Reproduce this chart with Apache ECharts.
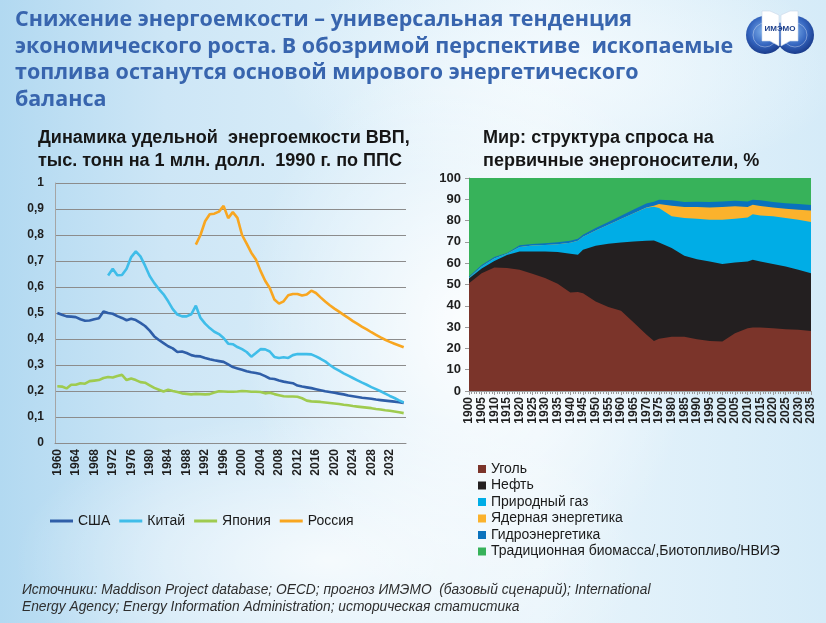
<!DOCTYPE html>
<html><head><meta charset="utf-8">
<script src="https://cdn.jsdelivr.net/npm/echarts@6/dist/echarts.min.js"></script>
<style>
html,body{margin:0;padding:0;width:826px;height:623px;overflow:hidden;}
body{
background:
 radial-gradient(ellipse 300px 380px at 470px 330px, rgba(255,255,255,0.9), rgba(255,255,255,0) 75%),
 radial-gradient(ellipse 420px 200px at 330px 560px, rgba(255,255,255,0.75), rgba(255,255,255,0) 75%),
 radial-gradient(ellipse 380px 160px at 560px 70px, rgba(245,251,254,0.85), rgba(255,255,255,0) 75%),
 linear-gradient(90deg, #b2d9f1 0%, #cde6f6 20%, #dbeef9 45%, #e8f4fb 65%, #d5ebf8 100%);
}
#c{width:826px;height:623px;}
</style></head><body><div id="c"></div>
<script>
// ---------- Left chart: energy intensity of GDP ----------
const lineYearStart = 1960, lineYearEnd = 2035;
const lineYears = [];
for (let y = lineYearStart; y <= lineYearEnd; y++) lineYears.push(String(y));

const usaStart = 1960;
const usa = [0.500,0.493,0.487,0.486,0.484,0.476,0.470,0.471,0.476,0.480,
 0.506,0.500,0.497,0.488,0.481,0.472,0.478,0.473,0.462,0.450,
 0.432,0.410,0.396,0.384,0.372,0.364,0.350,0.352,0.346,0.338,
 0.334,0.333,0.327,0.322,0.318,0.315,0.312,0.302,0.292,0.287,
 0.282,0.276,0.272,0.269,0.265,0.257,0.248,0.246,0.240,0.236,
 0.233,0.230,0.221,0.217,0.214,0.211,0.207,0.203,0.199,0.196,
 0.193,0.190,0.187,0.183,0.180,0.177,0.174,0.172,0.170,0.167,
 0.165,0.163,0.161,0.159,0.157,0.154];

const chinaStart = 1971;
const china = [0.644,0.670,0.645,0.646,0.670,0.715,0.737,0.718,0.682,0.642,
 0.615,0.592,0.572,0.545,0.515,0.494,0.487,0.487,0.495,0.528,
 0.481,0.459,0.442,0.428,0.419,0.404,0.382,0.380,0.369,0.361,
 0.350,0.332,0.346,0.361,0.360,0.352,0.331,0.327,0.330,0.327,
 0.338,0.342,0.342,0.342,0.341,0.333,0.324,0.314,0.300,0.288,
 0.278,0.268,0.259,0.250,0.241,0.232,0.224,0.215,0.207,0.199,
 0.190,0.181,0.173,0.164,0.156];

const japanStart = 1960;
const japan = [0.218,0.217,0.210,0.224,0.224,0.230,0.228,0.238,0.240,0.242,
 0.250,0.254,0.252,0.258,0.262,0.242,0.248,0.242,0.234,0.232,
 0.222,0.212,0.205,0.198,0.205,0.200,0.196,0.191,0.189,0.187,
 0.189,0.188,0.187,0.188,0.194,0.199,0.198,0.197,0.197,0.198,
 0.200,0.199,0.197,0.197,0.196,0.191,0.193,0.188,0.184,0.180,
 0.179,0.179,0.178,0.172,0.163,0.160,0.159,0.158,0.156,0.154,
 0.152,0.150,0.147,0.145,0.142,0.140,0.138,0.136,0.134,0.131,
 0.129,0.126,0.124,0.121,0.118,0.115];

const russiaStart = 1990;
const russia = [0.763,0.800,0.853,0.880,0.882,0.890,0.912,0.865,0.888,0.866,
 0.800,0.767,0.732,0.706,0.662,0.624,0.596,0.552,0.536,0.545,
 0.568,0.573,0.573,0.567,0.571,0.586,0.577,0.560,0.544,0.530,
 0.517,0.505,0.493,0.481,0.469,0.458,0.447,0.437,0.426,0.416,
 0.406,0.397,0.389,0.382,0.375,0.368];

const lineNames = ['США','Китай','Япония','Россия'];
const lineColors = ['#2f5ea8','#3fbde9','#9fcb4f','#f8a620'];

// ---------- Right chart: world primary energy demand structure, % ----------
const areaYears = [1900,1905,1910,1915,1920,1925,1930,1935,1940,1943,1945,1950,1955,1960,1965,
 1970,1973,1975,1980,1985,1990,1995,2000,2005,2010,2012,2015,2020,2025,2030,2035];
const coal    = [50.6,55.3,58.0,57.7,56.9,55.0,53.0,50.3,46.2,46.5,45.9,42.0,39.4,37.7,32.2,
 26.5,23.5,24.5,25.5,25.5,24.3,23.5,23.2,27.1,29.5,29.8,29.8,29.5,29.0,28.7,28.2];
const oil     = [2.2,2.2,3.0,6.2,8.6,10.5,12.5,14.9,18.2,17.5,20.4,26.2,29.7,32.0,38.0,
 44.0,47.2,45.2,41.6,38.0,37.6,37.3,36.4,33.2,31.3,31.8,31.0,30.1,29.5,28.2,27.1];
const gas     = [0.4,1.0,1.2,0.5,2.1,2.8,3.1,3.7,5.2,6.5,6.1,7.2,8.9,11.1,13.3,
 15.5,15.8,16.2,14.9,17.7,19.0,19.6,20.8,20.6,20.7,21.4,21.6,22.4,22.7,23.5,24.1];
const nuclear = [0,0,0,0,0,0,0,0,0,0,0,0,0,0,0,
 0.2,0.5,1.9,5.0,5.2,5.5,5.8,6.0,5.8,4.9,4.4,4.5,4.2,4.4,4.7,5.3];
const hydro   = [0.5,0.7,0.7,0.4,0.8,0.7,0.8,0.9,0.9,1.0,1.0,1.1,1.4,1.5,1.7,
 1.8,1.9,2.0,2.5,2.3,2.5,2.5,2.6,2.6,2.6,2.4,2.6,2.5,2.6,2.7,2.6];
const biomass = [46.3,40.8,37.1,35.2,31.6,31.0,30.6,30.2,29.5,28.5,26.6,23.5,20.6,17.7,14.8,
 12.0,11.1,10.2,10.5,11.3,11.1,11.3,11.0,10.7,11.0,10.2,10.5,11.3,11.8,12.2,12.7];

const areaNames = ['Уголь','Нефть','Природный газ','Ядерная энергетика','Гидроэнергетика','Традиционная биомасса/,Биотопливо/НВИЭ'];
const areaColors = ['#7b342a','#231f20','#00ade6','#fbb22c','#0a72bd','#37b25a'];
const areaValues = [coal, oil, gas, nuclear, hydro, biomass];

// ---------- Texts ----------
const titleLines = ['Снижение энергоемкости – универсальная тенденция',
 'экономического роста. В обозримой перспективе  ископаемые',
 'топлива останутся основой мирового энергетического',
 'баланса'];
const leftSub = ['Динамика удельной  энергоемкости ВВП,', 'тыс. тонн на 1 млн. долл.  1990 г. по ППС'];
const rightSub = ['Мир: структура спроса на', 'первичные энергоносители, %'];
const sourceLines = ['Источники: Maddison Project database; OECD; прогноз ИМЭМО  (базовый сценарий); International',
 'Energy Agency; Energy Information Administration; историческая статистика'];

// ---------- helpers ----------
const mctx = document.createElement('canvas').getContext('2d');
function fitSize(text, style, weight, family, width) {
  mctx.font = style + ' ' + weight + ' 100px ' + family;
  return 100 * width / mctx.measureText(text).width;
}
function padSeries(start, arr) {
  return lineYears.map(function (y) {
    const i = Number(y) - start;
    return (i >= 0 && i < arr.length) ? arr[i] : null;
  });
}

const TF = '"Open Sans", "DejaVu Sans", sans-serif';
const AF = '"Liberation Sans", Arial, sans-serif';
const NF = '"Liberation Sans Narrow", "Liberation Sans", Arial, sans-serif';

const titleSize = fitSize(titleLines[0], 'normal', 'bold', TF, 617);
const subSize = fitSize(leftSub[0], 'normal', 'bold', AF, 372);
const srcSize = fitSize(sourceLines[0], 'italic', 'normal', NF, 629);

const graphics = [];
const titleY = [22, 49, 75, 102];
titleLines.forEach(function (t, i) {
  graphics.push({type: 'text', left: 15, top: titleY[i] - titleSize * 0.6, silent: true,
    style: {text: t, font: 'bold ' + titleSize.toFixed(2) + 'px ' + TF, fill: '#3865ae'}});
});
const subY = [139, 162];
leftSub.forEach(function (t, i) {
  graphics.push({type: 'text', left: 38, top: subY[i] - subSize * 0.58, silent: true,
    style: {text: t, font: 'bold ' + subSize.toFixed(2) + 'px ' + AF, fill: '#161616'}});
});
rightSub.forEach(function (t, i) {
  graphics.push({type: 'text', left: 483, top: subY[i] - subSize * 0.58, silent: true,
    style: {text: t, font: 'bold ' + subSize.toFixed(2) + 'px ' + AF, fill: '#161616'}});
});
const srcY = [591, 608];
sourceLines.forEach(function (t, i) {
  graphics.push({type: 'text', left: 22, top: srcY[i] - srcSize * 0.58, silent: true,
    style: {text: t, font: 'italic ' + srcSize.toFixed(2) + 'px ' + NF, fill: '#2e2e2e'}});
});
// logo
const globeGrad = {type: 'radial', x: 0.45, y: 0.4, r: 0.6,
  colorStops: [{offset: 0, color: '#7fb0ea'}, {offset: 0.6, color: '#3566c0'}, {offset: 1, color: '#1a3c8c'}]};
graphics.push({type: 'circle', silent: true, shape: {cx: 765, cy: 35, r: 19}, style: {fill: globeGrad}});
graphics.push({type: 'circle', silent: true, shape: {cx: 795, cy: 35, r: 19}, style: {fill: globeGrad}});
graphics.push({type: 'circle', silent: true, shape: {cx: 765, cy: 35, r: 12}, style: {fill: 'none', stroke: 'rgba(255,255,255,0.35)', lineWidth: 1}});
graphics.push({type: 'circle', silent: true, shape: {cx: 795, cy: 35, r: 12}, style: {fill: 'none', stroke: 'rgba(255,255,255,0.35)', lineWidth: 1}});
graphics.push({type: 'polygon', silent: true, shape: {points: [[779, 15], [770, 11], [762, 11], [762, 41], [770, 41], [779, 46]]},
  style: {fill: '#ffffff', stroke: '#c9d6ea', lineWidth: 0.6}});
graphics.push({type: 'polygon', silent: true, shape: {points: [[781, 15], [790, 11], [798, 11], [798, 41], [790, 41], [781, 46]]},
  style: {fill: '#ffffff', stroke: '#c9d6ea', lineWidth: 0.6}});
graphics.push({type: 'text', silent: true, x: 780, y: 29,
  style: {text: 'ИМЭМО', font: 'bold 8px ' + AF, fill: '#1d3f8a', align: 'center', verticalAlign: 'middle'}});

const axisLabelStyle = {fontFamily: AF, fontWeight: 'bold', color: '#1e1e1e'};

const series = [];
const lineData = [padSeries(usaStart, usa), padSeries(chinaStart, china), padSeries(japanStart, japan), padSeries(russiaStart, russia)];
lineNames.forEach(function (n, i) {
  series.push({name: n, type: 'line', xAxisIndex: 0, yAxisIndex: 0, data: lineData[i],
    symbol: 'none', connectNulls: false, lineStyle: {width: 2.6, color: lineColors[i]},
    itemStyle: {color: lineColors[i]}});
});
// stacked areas: cumulative tops, drawn from the top layer down so lower layers paint over
const cumulative = [];
areaValues.forEach(function (vals, i) {
  cumulative.push(vals.map(function (v, j) { return (i ? cumulative[i - 1][j] : 0) + v; }));
});
for (let i = areaNames.length - 1; i >= 0; i--) {
  series.push({name: areaNames[i], type: 'line', xAxisIndex: 1, yAxisIndex: 1,
    data: areaYears.map(function (y, j) { return [y, Math.min(100, cumulative[i][j])]; }),
    symbol: 'none', lineStyle: {width: 0}, areaStyle: {color: areaColors[i], opacity: 1, origin: 'start'},
    itemStyle: {color: areaColors[i]}, z: 2 + (areaNames.length - i)});
}

const option = {
  animation: false,
  backgroundColor: 'transparent',
  graphic: graphics,
  grid: [
    {left: 55, top: 183, width: 351, height: 260},
    {left: 469, top: 178, width: 342, height: 213}
  ],
  legend: [
    {data: lineNames, left: 50, top: 514, padding: 0, icon: 'rect', itemWidth: 23, itemHeight: 3, itemGap: 9,
     textStyle: {fontFamily: AF, fontSize: 14, color: '#1a1a1a'}},
    {data: areaNames, orient: 'vertical', left: 478, top: 462, padding: 0, icon: 'rect', itemWidth: 8, itemHeight: 8, itemGap: 2.5,
     textStyle: {fontFamily: AF, fontSize: 14, color: '#1a1a1a'}}
  ],
  xAxis: [
    {type: 'category', gridIndex: 0, data: lineYears, boundaryGap: true,
     axisLine: {lineStyle: {color: '#8c8c8c'}},
     axisTick: {interval: 0, length: 4, lineStyle: {color: '#8c8c8c'}},
     axisLabel: Object.assign({interval: 3, rotate: 90, fontSize: 12, margin: 6}, axisLabelStyle)},
    {type: 'value', gridIndex: 1, min: 1900, max: 2035, interval: 5,
     axisLine: {lineStyle: {color: '#9a9a9a'}},
     axisTick: {length: 4, lineStyle: {color: '#9a9a9a'}},
     minorTick: {show: true, splitNumber: 5, length: 3, lineStyle: {color: '#9a9a9a'}},
     splitLine: {show: false},
     axisLabel: Object.assign({rotate: 90, fontSize: 12, margin: 6, showMinLabel: true, showMaxLabel: true,
       formatter: function (v) { return String(v); }}, axisLabelStyle)}
  ],
  yAxis: [
    {type: 'value', gridIndex: 0, min: 0, max: 1, interval: 0.1,
     axisLine: {show: true, lineStyle: {color: '#a5a5a5'}},
     axisTick: {show: false},
     splitLine: {lineStyle: {color: '#8c8c8c', width: 1}},
     axisLabel: Object.assign({fontSize: 12, margin: 11,
       formatter: function (v) { return String(+v.toFixed(1)).replace('.', ','); }}, axisLabelStyle)},
    {type: 'value', gridIndex: 1, min: 0, max: 100, interval: 10,
     axisLine: {show: true, lineStyle: {color: '#9a9a9a'}},
     axisTick: {show: true, length: 4, lineStyle: {color: '#9a9a9a'}},
     splitLine: {show: false},
     axisLabel: Object.assign({fontSize: 13, margin: 8}, axisLabelStyle)}
  ],
  series: series
};

const chart = echarts.init(document.getElementById('c'), null, {renderer: 'canvas'});
chart.setOption(option);
</script>
</body></html>
